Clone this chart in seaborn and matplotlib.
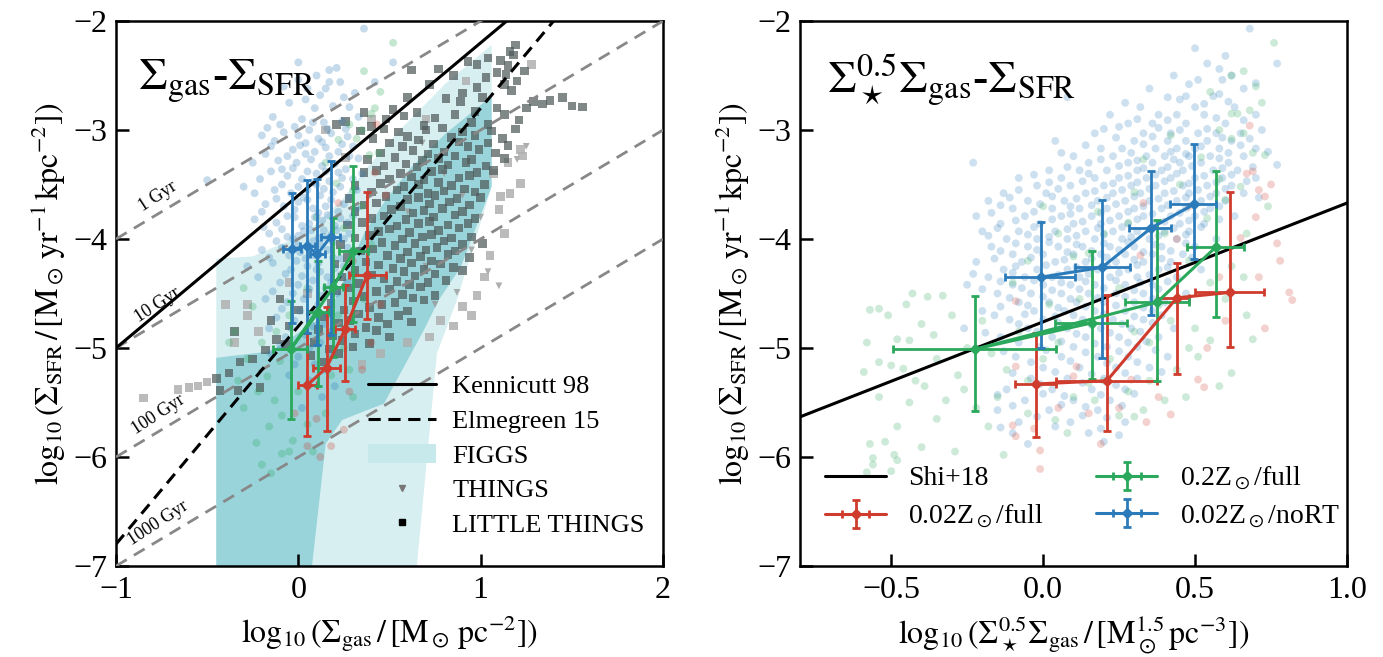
import numpy as np
import pandas as pd
import matplotlib
matplotlib.use('Agg')
import matplotlib.pyplot as plt
import seaborn as sns
from matplotlib.lines import Line2D
from matplotlib.patches import Patch

# ---------------- data: left panel ----------------
left_blue_pts = [
    (0.36,-2.07),(0.52,-2.38),(0.00,-2.38),(0.17,-2.45),(0.21,-2.43),(0.00,-2.54),(0.17,-2.56),(0.23,-2.56),
    (0.42,-2.56),(-0.14,-2.88),(0.28,-2.79),(0.05,-2.62),(0.12,-2.68),(0.31,-2.66),(-0.05,-2.75),(0.09,-2.80),
    (0.19,-2.78),(-0.10,-2.95),(0.02,-2.90),(0.14,-2.93),(0.24,-2.92),(0.33,-2.88),
    (-0.20,-3.05),(-0.08,-3.02),(0.00,-3.05),(0.06,-3.00),(0.11,-3.08),(0.18,-3.03),(0.27,-3.06),(-0.15,-3.15),
    (-0.03,-3.18),(0.04,-3.12),(0.09,-3.20),(0.15,-3.16),(0.22,-3.20),(0.30,-3.15),(-0.25,-3.30),(-0.11,-3.28),
    (-0.01,-3.30),(0.07,-3.27),(0.13,-3.33),(0.20,-3.31),(0.26,-3.36),(-0.21,-3.45),(-0.06,-3.42),(0.02,-3.45),
    (0.10,-3.40),(0.17,-3.47),(0.24,-3.44),(0.35,-3.40),(-0.50,-3.46),(-0.30,-3.52),(-0.13,-3.55),(-0.04,-3.58),
    (0.05,-3.55),(0.12,-3.60),(0.19,-3.57),(0.28,-3.62),(-0.18,-3.68),(-0.08,-3.70),(0.00,-3.66),(0.08,-3.72),
    (0.15,-3.70),(0.22,-3.75),(0.32,-3.72),(-0.24,-3.82),(-0.12,-3.85),(-0.02,-3.80),(0.06,-3.86),(0.13,-3.83),
    (0.20,-3.88),(0.27,-3.85),(-0.16,-3.95),(-0.06,-3.98),(0.03,-3.93),(0.11,-3.99),(0.18,-3.96),(0.25,-4.00),
    (-0.20,-4.10),(-0.09,-4.08),(0.01,-4.12),(0.09,-4.15),(0.16,-4.10),(0.23,-4.18),(-0.28,-4.25),(-0.14,-4.22),
    (-0.04,-4.28),(0.05,-4.25),(0.12,-4.30),(0.20,-4.27),(-0.10,-4.40),(0.00,-4.42),(0.08,-4.38),(0.15,-4.45),
    (0.27,-4.40),(-0.18,-4.55),(-0.06,-4.58),(0.03,-4.55),(0.11,-4.60),(0.18,-4.62),(-0.12,-4.72),(-0.02,-4.75),
    (0.07,-4.70),(0.14,-4.78),(-0.07,-4.90),(0.04,-4.88),(0.12,-4.95),(-0.15,-5.05),(0.00,-5.08),(0.09,-5.15),
    (0.17,-5.05),(-0.05,-5.25),(0.06,-5.30),(0.13,-5.45),(0.02,-5.55),(0.20,-5.35),
    (-0.09,-3.36),(0.03,-3.62),(0.10,-3.50),(-0.03,-4.00),(0.08,-4.02),(0.14,-3.92),(-0.01,-4.20),(0.16,-4.35),
    (-0.17,-2.98),(-0.02,-2.97),(0.08,-2.93),(0.16,-2.99),(0.26,-2.99),(0.04,-2.72),(0.15,-2.62),(-0.08,-2.60),
    (0.25,-2.70),(0.10,-2.50),(-0.13,-3.10),(0.01,-3.14),(0.13,-3.11),(0.24,-3.13),(0.33,-3.26),(-0.18,-3.22),
    (-0.06,-3.24),(0.04,-3.22),(0.17,-3.24),(0.28,-3.24),(-0.15,-3.38),(-0.03,-3.35),(0.05,-3.38),(0.15,-3.38),
    (0.22,-3.39),(0.30,-3.45),(-0.24,-3.58),(-0.09,-3.50),(0.00,-3.52),(0.08,-3.48),(0.14,-3.54),(0.23,-3.52),
    (0.32,-3.55),(-0.12,-3.63),(-0.02,-3.73),(0.05,-3.64),(0.11,-3.76),(0.18,-3.64),(0.25,-3.68),(-0.20,-3.75),
    (-0.06,-3.79),(0.02,-3.88),(0.09,-3.80),(0.16,-3.78),(0.23,-3.81),(0.30,-3.79),(-0.19,-3.89),(-0.09,-3.91),
    (0.00,-3.97),(0.07,-3.92),(0.14,-3.98),(0.21,-3.92),(0.28,-3.95),(-0.12,-4.02),(-0.01,-4.05),(0.06,-4.07),
    (0.12,-4.05),(0.19,-4.03),(0.27,-4.08),(-0.16,-4.17),(-0.05,-4.15),(0.04,-4.18),(0.11,-4.22),(0.19,-4.17),
    (0.25,-4.25),(-0.22,-4.35),(-0.07,-4.32),(0.02,-4.34),(0.10,-4.28),(0.18,-4.40),(0.23,-4.33),(-0.14,-4.48),
    (-0.03,-4.50),(0.06,-4.46),(0.13,-4.52),(0.21,-4.50),(-0.09,-4.64),(0.01,-4.66),(0.09,-4.65),(0.16,-4.70),
    (-0.16,-4.82),(-0.04,-4.82),(0.08,-4.80),(0.18,-4.85),(-0.10,-4.98),(0.06,-5.00),(0.14,-5.20),(-0.02,-5.15),
]
left_green_pts = [
    (0.52,-2.20),(0.36,-2.46),(0.45,-2.65),(0.42,-2.80),(0.40,-2.85),(0.35,-3.00),(0.32,-3.08),(0.22,-3.09),
    (0.44,-3.21),(0.39,-3.23),(0.21,-3.49),(0.30,-3.55),(0.35,-3.70),(0.10,-3.80),(0.25,-3.90),(0.40,-4.05),
    (-0.30,-4.45),(-0.25,-4.62),(0.30,-4.35),(0.36,-4.55),(-0.05,-4.70),(0.22,-4.70),(-0.35,-4.85),(-0.20,-4.95),
    (0.25,-5.00),(-0.28,-5.10),(-0.10,-5.12),(0.28,-5.20),(-0.17,-5.26),(-0.22,-5.40),(-0.13,-5.48),(0.00,-5.40),
    (0.30,-5.45),(-0.30,-5.55),(-0.09,-5.62),(-0.16,-5.72),(0.05,-5.70),(0.15,-5.60),(-0.23,-5.87),(-0.03,-5.85),
    (-0.09,-5.97),(-0.20,-6.07),(-0.15,-6.15),(0.08,-5.95),(-0.33,-5.30),(-0.38,-4.95),
    (0.28,-2.95),(0.15,-3.30),(0.05,-4.45),(-0.12,-4.85),(0.18,-5.25),(-0.05,-5.95),
]
left_red_pts = [
    (0.43,-2.95),(0.42,-3.39),(0.22,-3.67),(0.48,-3.60),(0.30,-4.20),(0.45,-4.60),(0.35,-5.20),(0.28,-5.40),
    (0.40,-4.95),(0.10,-5.65),(0.25,-5.75),(0.18,-5.90),(0.05,-5.90),(-0.02,-5.60),(0.12,-6.00),
]
lt_dark_pts = [
    (-0.45,-5.28),(-0.43,-5.39),(-0.38,-5.23),(-0.32,-5.13),(-0.33,-5.39),(-0.21,-5.36),(-0.12,-4.92),(-0.07,-4.97),
    (-0.25,-5.10),(-0.18,-5.02),(-0.35,-4.85),(-0.15,-4.75),(-0.05,-4.80),(0.00,-4.65),(-0.10,-4.55),
    (1.19,-2.22),(1.16,-2.28),(1.04,-2.34),(1.18,-2.31),(1.11,-2.36),(0.93,-2.37),(0.98,-2.40),(1.15,-2.41),
    (0.77,-2.44),(1.09,-2.47),(1.24,-2.46),(0.62,-2.45),(0.85,-2.50),(1.03,-2.52),(1.14,-2.49),
    (1.13,-2.58),(1.20,-2.55),(0.72,-2.58),(1.17,-2.64),(0.98,-2.61),(0.90,-2.66),
    (0.81,-2.71),(0.89,-2.74),(1.01,-2.70),(1.38,-2.73),(1.45,-2.70),(0.60,-2.70),
    (1.34,-2.76),(1.50,-2.78),(1.56,-2.79),(1.25,-2.80),(1.29,-2.74),
    (0.52,-2.81),(0.65,-2.84),(0.97,-2.83),(1.09,-2.80),(0.36,-2.84),
    (0.48,-2.90),(0.58,-2.87),(0.75,-2.89),(1.13,-2.86),(1.21,-2.91),(0.86,-2.86),
    (0.21,-2.95),(0.26,-2.92),(0.69,-2.96),(0.95,-2.93),(0.40,-2.97),(1.04,-2.95),
    (0.34,-3.01),(0.47,-2.99),(0.55,-3.02),(0.70,-3.00),(0.79,-2.98),(0.90,-3.02),(1.06,-3.01),(1.19,-2.99),
    (0.41,-3.08),(0.60,-3.06),(0.66,-3.09),(0.84,-3.07),(0.97,-3.05),(1.12,-3.08),
    (0.50,-3.12),(0.57,-3.15),(0.74,-3.13),(0.88,-3.11),(0.93,-3.15),(1.04,-3.12),(1.15,-3.14),
    (0.45,-3.21),(0.63,-3.19),(0.71,-3.22),(0.80,-3.20),(0.99,-3.18),(1.08,-3.21),
    (0.38,-3.27),(0.53,-3.25),(0.68,-3.28),(0.77,-3.26),(0.86,-3.24),(0.95,-3.27),(1.13,-3.26),
    (0.47,-3.33),(0.59,-3.31),(0.65,-3.34),(0.82,-3.32),(0.92,-3.30),(1.03,-3.33),
    (0.36,-3.39),(0.43,-3.37),(0.56,-3.40),(0.73,-3.38),(0.79,-3.36),(0.98,-3.39),(1.07,-3.37),
    (0.50,-3.45),(0.62,-3.43),(0.69,-3.46),(0.88,-3.44),(0.94,-3.42),
    (0.31,-3.51),(0.45,-3.49),(0.58,-3.52),(0.66,-3.50),(0.77,-3.48),(0.84,-3.51),(1.02,-3.50),
    (0.40,-3.57),(0.54,-3.55),(0.71,-3.58),(0.80,-3.56),(0.91,-3.54),(0.97,-3.57),
    (0.28,-3.63),(0.48,-3.61),(0.60,-3.64),(0.66,-3.62),(0.75,-3.60),(0.87,-3.63),(1.00,-3.62),
    (0.36,-3.69),(0.43,-3.67),(0.56,-3.70),(0.72,-3.68),(0.83,-3.66),(0.94,-3.69),
    (0.31,-3.75),(0.51,-3.73),(0.63,-3.76),(0.69,-3.74),(0.79,-3.72),(0.90,-3.75),
    (0.40,-3.81),(0.47,-3.79),(0.59,-3.82),(0.74,-3.80),(0.86,-3.78),(0.97,-3.81),
    (0.27,-3.87),(0.35,-3.85),(0.54,-3.88),(0.66,-3.86),(0.72,-3.84),(0.82,-3.87),(0.93,-3.86),
    (0.44,-3.93),(0.50,-3.91),(0.61,-3.94),(0.77,-3.92),(0.88,-3.90),
    (0.31,-3.99),(0.39,-3.97),(0.57,-4.00),(0.68,-3.98),(0.73,-3.96),(0.84,-3.99),(0.95,-3.98),
    (0.23,-4.05),(0.46,-4.03),(0.53,-4.06),(0.64,-4.04),(0.80,-4.02),(0.90,-4.05),(1.01,-4.04),
    (0.34,-4.11),(0.41,-4.09),(0.60,-4.12),(0.70,-4.10),(0.76,-4.08),(0.86,-4.11),
    (0.27,-4.17),(0.49,-4.15),(0.56,-4.18),(0.67,-4.16),(0.82,-4.14),(0.94,-4.17),
    (0.20,-4.23),(0.37,-4.21),(0.44,-4.24),(0.62,-4.22),(0.73,-4.20),(0.78,-4.23),
    (0.31,-4.29),(0.52,-4.27),(0.58,-4.30),(0.69,-4.28),(0.85,-4.26),(0.90,-4.29),
    (0.24,-4.35),(0.40,-4.33),(0.47,-4.36),(0.64,-4.34),(0.75,-4.32),
    (0.33,-4.41),(0.54,-4.39),(0.61,-4.42),(0.71,-4.40),(0.81,-4.38),
    (0.21,-4.47),(0.28,-4.45),(0.43,-4.48),(0.50,-4.46),(0.67,-4.44),
    (0.36,-4.53),(0.57,-4.51),(0.63,-4.54),(0.75,-4.52),
    (0.18,-4.59),(0.30,-4.57),(0.46,-4.60),(0.53,-4.58),(0.69,-4.56),
    (0.25,-4.65),(0.39,-4.63),(0.60,-4.66),
    (0.14,-4.71),(0.33,-4.69),(0.44,-4.72),(0.55,-4.70),
    (0.22,-4.77),(0.28,-4.75),(0.49,-4.78),(0.62,-4.76),
    (0.11,-4.83),(0.37,-4.81),(0.43,-4.84),(0.19,-4.89),(0.31,-4.87),(0.50,-4.90),
    (0.09,-4.95),(0.24,-4.93),(0.39,-4.96),(0.17,-5.01),(0.30,-4.99),(0.07,-5.07),(0.22,-5.05),(0.14,-5.13),
]
lt_light_pts = [
    (-0.85,-5.46),(-0.66,-5.38),(-0.60,-5.36),(-0.55,-5.35),(-0.50,-5.31),(1.22,-3.18),(1.23,-3.24),(1.22,-3.49),
    (1.11,-3.61),(1.10,-3.73),(1.13,-3.95),(1.05,-4.15),(1.02,-4.35),(0.98,-4.52),(0.95,-4.70),(0.60,-4.95),
    (0.72,-4.90),(0.85,-4.80),(0.45,-5.05),(0.35,-5.15),(-0.28,-4.60),(-0.22,-4.85),(-0.35,-4.95),(-0.05,-4.40),
    (0.05,-4.50),(0.70,-2.90),(0.40,-2.90),(0.15,-3.00),(0.92,-2.55),(1.28,-2.40),(1.07,-3.40),(1.15,-3.30),
    (-0.40,-4.60),(-0.28,-4.70),(1.16,-3.58),(0.90,-4.62),(0.78,-4.75),(0.26,-3.25),
]
things_pts = [
    (0.68,-3.12),(0.80,-3.40),(1.20,-3.27),(1.25,-3.15),(1.04,-4.30),(1.10,-4.43),(0.87,-4.49),(0.95,-4.10),
    (0.75,-4.60),(1.00,-3.80),(0.60,-3.75),(0.90,-3.60),(0.70,-4.25),
]
figgs_outer = [(-0.45,-7.0),(-0.45,-4.18),(-0.25,-4.16),(0.04,-3.95),(0.24,-3.64),(0.38,-3.34),(0.54,-3.03),
               (0.81,-2.57),(1.06,-2.22),(1.06,-3.52),(0.87,-4.56),(0.76,-5.05),(0.65,-7.0)]
figgs_inner = [(-0.45,-7.0),(-0.45,-5.09),(-0.15,-5.03),(0.10,-4.75),(0.20,-4.56),(0.28,-4.25),(0.36,-3.95),
               (0.48,-3.64),(0.62,-3.34),(0.81,-3.03),(1.06,-2.69),(1.06,-3.52),(0.89,-4.26),(0.77,-4.56),
               (0.69,-4.83),(0.47,-5.51),(0.24,-5.66),(0.15,-5.88),(0.075,-7.0)]
L_red_x = [0.049, 0.155, 0.256, 0.378]
L_red_y = [-5.34, -5.18, -4.83, -4.33]
L_red_xlo = [0.00, 0.08, 0.20, 0.28]; L_red_xhi = [0.10, 0.23, 0.31, 0.48]
L_red_ylo = [-5.81, -5.76, -5.30, -4.73]; L_red_yhi = [-4.86, -4.62, -4.42, -3.57]
L_green_x = [0.110, -0.042, 0.192, 0.302]
L_green_y = [-4.67, -5.01, -4.44, -4.11]
L_green_xlo = [0.05, -0.14, 0.14, 0.225]; L_green_xhi = [0.17, 0.05, 0.245, 0.38]
L_green_ylo = [-5.35, -5.65, -5.08, -4.76]; L_green_yhi = [-4.20, -4.57, -3.81, -3.33]
L_blue_x = [-0.033, 0.049, 0.104, 0.177]
L_blue_y = [-4.095, -4.064, -4.14, -3.98]
L_blue_xlo = [-0.083, 0.01, 0.065, 0.127]; L_blue_xhi = [0.017, 0.09, 0.145, 0.227]
L_blue_ylo = [-4.77, -4.86, -4.97, -4.88]; L_blue_yhi = [-3.575, -3.46, -3.45, -3.28]

# ---------------- data: right panel ----------------
right_blue_pts = [
    (0.68,-2.07),(0.50,-2.25),(0.54,-2.39),(0.77,-2.39),(0.58,-2.44),(0.43,-2.50),(0.62,-2.50),(0.51,-2.54),
    (0.59,-2.54),(0.35,-2.62),(0.66,-2.62),(0.08,-2.70),(0.41,-2.70),(0.45,-2.72),(0.47,-2.69),(0.56,-2.69),
    (0.58,-2.67),(0.32,-2.79),(0.50,-2.79),(0.63,-2.79),(0.22,-2.86),(0.38,-2.86),(0.44,-2.86),(0.53,-2.86),
    (0.70,-2.86),(0.28,-2.94),(0.25,-2.97),(0.36,-2.94),(0.47,-2.94),(0.60,-2.94),
    (0.17,-3.03),(0.33,-3.03),(0.42,-3.03),(0.51,-3.03),(0.57,-3.03),(0.65,-3.03),
    (0.04,-3.10),(0.30,-3.10),(0.41,-3.10),(0.47,-3.10),(0.54,-3.10),(0.62,-3.10),
    (0.19,-3.17),(0.26,-3.17),(0.37,-3.17),(0.44,-3.17),(0.50,-3.17),(0.58,-3.17),(0.70,-3.17),
    (0.10,-3.24),(0.23,-3.24),(0.34,-3.24),(0.40,-3.24),(0.48,-3.24),(0.55,-3.24),(0.66,-3.24),
    (-0.23,-3.30),(0.15,-3.30),(0.28,-3.30),(0.36,-3.30),(0.45,-3.30),(0.52,-3.30),(0.61,-3.30),(0.77,-3.32),
    (0.02,-3.37),(0.12,-3.37),(0.21,-3.37),(0.31,-3.37),(0.39,-3.37),(0.46,-3.37),(0.56,-3.37),(0.64,-3.37),
    (-0.08,-3.44),(0.06,-3.44),(0.17,-3.44),(0.25,-3.44),(0.34,-3.44),(0.42,-3.44),(0.50,-3.44),(0.59,-3.44),(0.70,-3.44),
    (-0.02,-3.51),(0.09,-3.51),(0.20,-3.51),(0.29,-3.51),(0.37,-3.51),(0.46,-3.51),(0.54,-3.51),(0.62,-3.51),
    (-0.13,-3.58),(0.01,-3.58),(0.14,-3.58),(0.23,-3.58),(0.32,-3.58),(0.40,-3.58),(0.48,-3.58),(0.57,-3.58),(0.66,-3.58),
    (-0.18,-3.65),(-0.05,-3.65),(0.07,-3.65),(0.18,-3.65),(0.27,-3.65),(0.35,-3.65),(0.44,-3.65),(0.52,-3.65),(0.60,-3.65),
    (-0.10,-3.72),(0.03,-3.72),(0.12,-3.72),(0.21,-3.72),(0.30,-3.72),(0.39,-3.72),(0.47,-3.72),(0.55,-3.72),
    (-0.22,-3.79),(-0.06,-3.79),(0.06,-3.79),(0.16,-3.79),(0.25,-3.79),(0.33,-3.79),(0.42,-3.79),(0.50,-3.79),(0.63,-3.79),
    (-0.14,-3.86),(-0.01,-3.86),(0.10,-3.86),(0.19,-3.86),(0.28,-3.86),(0.37,-3.86),(0.45,-3.86),(0.53,-3.86),
    (-0.20,-3.93),(-0.08,-3.93),(0.04,-3.93),(0.14,-3.93),(0.23,-3.93),(0.31,-3.93),(0.40,-3.93),(0.48,-3.93),
    (-0.12,-4.00),(-0.02,-4.00),(0.08,-4.00),(0.17,-4.00),(0.26,-4.00),(0.35,-4.00),(0.44,-4.00),(0.57,-4.00),
    (-0.17,-4.07),(-0.05,-4.07),(0.05,-4.07),(0.13,-4.07),(0.22,-4.07),(0.30,-4.07),(0.39,-4.07),(0.50,-4.07),
    (-0.10,-4.14),(0.00,-4.14),(0.10,-4.14),(0.19,-4.14),(0.27,-4.14),(0.36,-4.14),(0.46,-4.14),
    (-0.22,-4.21),(-0.07,-4.21),(0.04,-4.21),(0.14,-4.21),(0.24,-4.21),(0.33,-4.21),(0.42,-4.21),
    (-0.13,-4.28),(-0.02,-4.28),(0.08,-4.28),(0.18,-4.28),(0.28,-4.28),(0.38,-4.28),(0.52,-4.28),
    (-0.18,-4.35),(-0.06,-4.35),(0.03,-4.35),(0.12,-4.35),(0.22,-4.35),(0.31,-4.35),(0.44,-4.35),
    (-0.25,-4.42),(-0.10,-4.42),(0.00,-4.42),(0.09,-4.42),(0.17,-4.42),(0.27,-4.42),(0.36,-4.42),
    (-0.15,-4.50),(-0.04,-4.50),(0.06,-4.50),(0.15,-4.50),(0.24,-4.50),(0.33,-4.50),(0.47,-4.50),
    (-0.08,-4.58),(0.02,-4.58),(0.11,-4.58),(0.20,-4.58),(0.30,-4.58),(0.40,-4.58),
    (-0.20,-4.66),(-0.03,-4.66),(0.07,-4.66),(0.17,-4.66),(0.27,-4.66),(0.36,-4.66),
    (-0.11,-4.74),(0.00,-4.74),(0.13,-4.74),(0.23,-4.74),(0.33,-4.74),
    (-0.26,-4.82),(-0.05,-4.82),(0.08,-4.82),(0.19,-4.82),(0.29,-4.82),(0.43,-4.82),
    (-0.14,-4.90),(0.03,-4.90),(0.14,-4.90),(0.25,-4.90),(0.38,-4.90),
    (-0.01,-4.99),(0.10,-4.99),(0.21,-4.99),(0.31,-4.99),
    (-0.09,-5.08),(0.06,-5.08),(0.18,-5.08),(0.28,-5.08),(0.41,-5.08),
    (0.00,-5.18),(0.12,-5.18),(0.24,-5.18),(0.35,-5.18),
    (-0.04,-5.28),(0.08,-5.28),(0.20,-5.28),(0.31,-5.28),
    (-0.12,-5.38),(0.03,-5.38),(0.16,-5.38),(0.27,-5.38),
    (-0.06,-5.48),(0.10,-5.48),(0.22,-5.48),(-0.15,-5.57),(0.02,-5.57),(0.18,-5.57),
    (-0.08,-5.68),(0.09,-5.68),(0.27,-5.68),(-0.10,-5.78),(0.15,-5.78),(0.25,-5.80),(-0.05,-5.88),(0.20,-5.86),
    (0.60,-2.32),(0.48,-2.58),(0.70,-2.57),(0.27,-2.75),(0.53,-2.76),(0.61,-2.74),(0.31,-2.90),(0.41,-2.91),
    (0.57,-2.89),(0.66,-2.91),(0.20,-2.99),(0.38,-2.98),(0.45,-3.00),(0.54,-2.99),(0.72,-3.00),(0.24,-3.07),
    (0.36,-3.06),(0.59,-3.07),(0.68,-3.08),(0.14,-3.14),(0.33,-3.13),(0.52,-3.15),(0.65,-3.14),(0.06,-3.21),
    (0.29,-3.21),(0.42,-3.20),(0.47,-3.22),(0.61,-3.21),(0.74,-3.20),(0.19,-3.27),(0.31,-3.28),(0.43,-3.27),
    (0.58,-3.26),(0.08,-3.34),(0.25,-3.33),(0.33,-3.35),(0.41,-3.34),(0.49,-3.33),(0.59,-3.35),(0.69,-3.34),
    (-0.03,-3.41),(0.15,-3.40),(0.28,-3.42),(0.37,-3.41),(0.44,-3.40),(0.53,-3.42),(0.62,-3.41),(0.02,-3.48),
    (0.13,-3.47),(0.23,-3.49),(0.31,-3.48),(0.40,-3.47),(0.48,-3.49),(0.57,-3.48),(0.67,-3.47),(-0.08,-3.55),
    (0.05,-3.54),(0.17,-3.56),(0.26,-3.55),(0.35,-3.54),(0.43,-3.56),(0.51,-3.55),(0.60,-3.54),(-0.11,-3.62),
    (0.03,-3.61),(0.11,-3.63),(0.21,-3.62),(0.30,-3.61),(0.38,-3.63),(0.47,-3.62),(0.55,-3.61),(0.71,-3.62),
    (-0.14,-3.69),(-0.01,-3.68),(0.09,-3.70),(0.16,-3.69),(0.24,-3.68),(0.33,-3.70),(0.41,-3.69),(0.50,-3.68),
    (0.58,-3.70),(-0.17,-3.76),(-0.03,-3.75),(0.09,-3.77),(0.19,-3.76),(0.28,-3.75),(0.36,-3.77),(0.45,-3.76),
    (0.53,-3.75),(-0.09,-3.83),(0.03,-3.82),(0.13,-3.84),(0.22,-3.83),(0.31,-3.82),(0.40,-3.84),(0.48,-3.83),
    (0.58,-3.82),(-0.15,-3.90),(-0.03,-3.89),(0.08,-3.91),(0.18,-3.90),(0.26,-3.89),(0.35,-3.91),(0.43,-3.90),
    (0.52,-3.89),(-0.18,-3.97),(-0.05,-3.96),(0.02,-3.98),(0.11,-3.97),(0.20,-3.96),(0.29,-3.98),(0.38,-3.97),
    (0.47,-3.96),(-0.09,-4.04),(0.02,-4.03),(0.11,-4.05),(0.20,-4.04),(0.28,-4.03),(0.37,-4.05),(0.47,-4.04),
    (-0.14,-4.11),(-0.02,-4.10),(0.08,-4.12),(0.16,-4.11),(0.25,-4.10),(0.33,-4.12),(0.42,-4.11),(-0.16,-4.18),
    (-0.04,-4.17),(0.07,-4.19),(0.16,-4.18),(0.21,-4.17),(0.30,-4.19),(0.39,-4.18),(0.49,-4.17),(-0.09,-4.25),
    (0.01,-4.24),(0.11,-4.26),(0.21,-4.25),(0.31,-4.24),(0.41,-4.26),(-0.23,-4.32),(-0.10,-4.31),(0.05,-4.33),
    (0.15,-4.32),(0.25,-4.31),(0.35,-4.33),(-0.14,-4.39),(-0.03,-4.38),(0.06,-4.40),(0.14,-4.39),(0.24,-4.38),
    (0.32,-4.40),(0.41,-4.39),(-0.20,-4.46),(-0.07,-4.45),(0.03,-4.47),(0.12,-4.46),(0.20,-4.45),(0.30,-4.47),
    (0.38,-4.46),(-0.11,-4.54),(0.00,-4.53),(0.09,-4.55),(0.18,-4.54),(0.27,-4.53),(0.36,-4.55),(-0.14,-4.62),
    (-0.05,-4.61),(0.05,-4.63),(0.14,-4.62),(0.24,-4.61),(0.33,-4.63),(-0.16,-4.70),(-0.06,-4.69),(0.04,-4.71),
    (0.10,-4.70),(0.20,-4.69),(0.30,-4.71),(0.39,-4.70),(-0.08,-4.78),(0.05,-4.77),(0.16,-4.79),(0.26,-4.78),
    (0.36,-4.77),(-0.19,-4.86),(-0.02,-4.85),(0.11,-4.87),(0.22,-4.86),(0.32,-4.85),(-0.08,-4.95),(0.06,-4.94),
    (0.17,-4.96),(0.28,-4.95),(0.34,-4.94),(-0.13,-5.03),(0.01,-5.02),(0.14,-5.04),(0.25,-5.03),(0.37,-5.02),
    (-0.04,-5.13),(0.09,-5.12),(0.21,-5.14),(0.31,-5.13),(-0.10,-5.23),(0.04,-5.22),(0.16,-5.24),(0.27,-5.23),
    (0.39,-5.22),(-0.01,-5.33),(0.13,-5.32),(0.24,-5.34),(-0.15,-5.43),(0.00,-5.42),(0.07,-5.44),(0.19,-5.43),
    (0.30,-5.42),(-0.10,-5.53),(0.06,-5.52),(0.14,-5.54),(0.26,-5.53),(-0.02,-5.63),(0.13,-5.62),(0.21,-5.64),
    (-0.14,-5.73),(0.04,-5.72),(0.19,-5.74),
]
right_green_pts = [
    (-0.57,-4.65),(-0.54,-4.64),(-0.51,-4.70),(-0.58,-4.95),(-0.48,-4.92),(-0.44,-4.93),(-0.36,-4.88),(-0.54,-5.13),
    (-0.59,-5.22),(-0.50,-5.16),(-0.46,-5.19),(-0.39,-5.35),(-0.54,-5.45),(-0.32,-5.48),(-0.48,-5.72),(-0.52,-5.86),
    (-0.57,-5.88),(-0.40,-5.91),(-0.49,-5.98),(-0.48,-6.03),(-0.56,-6.01),(-0.56,-6.07),(-0.58,-6.14),(-0.50,-6.13),
    (-0.29,-5.95),(-0.26,-5.38),(-0.18,-5.72),(-0.13,-5.98),(-0.17,-5.05),(-0.43,-4.50),(-0.38,-4.53),(-0.33,-4.52),
    (0.76,-2.20),(0.66,-2.46),(0.62,-2.50),(0.68,-2.82),(0.64,-2.85),(0.72,-2.75),(0.58,-3.00),(0.62,-3.08),
    (0.66,-3.03),(0.69,-3.21),(0.73,-3.23),(0.65,-3.52),(0.60,-3.64),(0.33,-3.27),(0.30,-3.57),(0.00,-3.70),
    (0.10,-4.16),(0.15,-4.13),(0.54,-3.81),(0.67,-3.95),(0.38,-4.61),(0.50,-4.82),(0.55,-4.93),(0.58,-5.35),
    (0.62,-5.23),(0.47,-5.45),(0.40,-5.48),(0.33,-5.57),(0.25,-5.62),(0.08,-5.78),(0.04,-5.66),(0.17,-5.48),
    (0.30,-5.63),(0.15,-5.32),(0.51,-5.08),(0.69,-4.92),(0.67,-4.70),(-0.10,-4.40),(-0.05,-5.30),(0.22,-5.10),
    (0.45,-3.50),(0.20,-3.95),(-0.20,-4.75),(0.35,-4.95),(0.05,-4.95),(-0.08,-4.85),(0.55,-4.40),(0.62,-4.25),
    (-0.45,-4.60),(-0.40,-4.78),(-0.30,-4.70),(-0.25,-5.00),(-0.35,-5.10),(-0.42,-5.30),(-0.28,-5.25),(-0.22,-5.55),
    (-0.35,-5.65),(-0.44,-5.50),(-0.12,-5.20),(-0.15,-5.45),(-0.05,-5.60),(0.00,-5.10),(0.10,-5.45),(0.20,-5.30),
    (0.28,-5.40),(0.35,-5.30),(0.44,-5.20),(0.48,-5.00),(0.42,-4.75),(0.30,-4.85),(0.25,-4.45),(0.12,-4.55),
    (0.02,-4.60),(-0.05,-4.20),(0.05,-3.95),(0.18,-3.75),(0.28,-3.85),(0.40,-3.95),(0.48,-4.20),(0.60,-4.55),
    (0.66,-4.35),(0.58,-3.45),(0.52,-3.25),(0.42,-3.05),(0.70,-2.60),(0.62,-2.85),(0.55,-2.65),(0.74,-3.70),
]
right_red_pts = [
    (0.68,-2.96),(0.67,-3.40),(0.69,-3.38),(0.71,-3.55),(0.73,-3.61),(0.75,-3.50),(0.65,-3.99),(0.77,-4.04),
    (0.71,-4.35),(0.81,-4.49),(0.82,-4.56),(0.58,-4.35),(0.33,-3.67),(0.44,-4.00),(0.32,-4.15),(-0.09,-4.57),
    (0.73,-4.82),(0.54,-5.00),(0.51,-5.29),(0.53,-5.36),(0.42,-5.61),(0.34,-5.68),(0.19,-5.88),(-0.01,-5.94),
    (-0.01,-6.11),(-0.10,-5.71),(-0.09,-5.81),(-0.03,-5.74),(0.10,-5.26),(0.11,-5.17),(-0.09,-5.17),(0.29,-5.29),
    (0.60,-4.75),(0.78,-4.20),(0.70,-3.80),(0.48,-3.70),(0.25,-5.55),(0.05,-5.55),(0.38,-5.45),(0.15,-5.60),
]
R_red_x = [-0.023, 0.21, 0.44, 0.615]
R_red_y = [-5.33, -5.30, -4.54, -4.49]
R_red_xlo = [-0.093, 0.043, 0.375, 0.50]; R_red_xhi = [0.043, 0.375, 0.48, 0.727]
R_red_ylo = [-5.82, -5.76, -5.24, -4.99]; R_red_yhi = [-4.86, -4.51, -4.22, -3.57]
R_green_x = [0.16, -0.224, 0.375, 0.57]
R_green_y = [-4.77, -5.01, -4.58, -4.07]
R_green_xlo = [0.04, -0.494, 0.27, 0.474]; R_green_xhi = [0.276, 0.043, 0.48, 0.66]
R_green_ylo = [-5.28, -5.58, -5.30, -4.72]; R_green_yhi = [-4.11, -4.52, -3.83, -3.38]
R_blue_x = [-0.007, 0.194, 0.355, 0.497]
R_blue_y = [-4.35, -4.26, -3.90, -3.68]
R_blue_xlo = [-0.125, 0.105, 0.283, 0.418]; R_blue_xhi = [0.105, 0.286, 0.42, 0.57]
R_blue_ylo = [-5.00, -5.09, -4.70, -4.18]; R_blue_yhi = [-3.84, -3.64, -3.38, -3.13]

kennicutt = dict(slope=1.4, norm=-3.6)
elmegreen = dict(slope=2.0, norm=-4.8)
shi18 = dict(slope=1.09, norm=-4.76)
tdep_gyr = [1, 10, 100, 1000]
tdep_labels = ['1 Gyr', '10 Gyr', '100 Gyr', '1000 Gyr']

RED, GREEN, BLUE = '#cf3b2c', '#2aa85b', '#2b7bba'

# ---------------- style ----------------
sns.set_theme(style='white')
plt.rcParams.update({
    'font.family': ['Liberation Serif', 'DejaVu Serif'],
    'mathtext.fontset': 'stix',
    'axes.linewidth': 1.8,
    'axes.edgecolor': 'black',
    'xtick.direction': 'in', 'ytick.direction': 'in',
    'xtick.bottom': True, 'ytick.left': True,
    'xtick.top': False, 'ytick.right': False,
    'xtick.major.size': 9, 'ytick.major.size': 9,
    'xtick.major.width': 1.8, 'ytick.major.width': 1.8,
    'xtick.major.pad': 7, 'ytick.major.pad': 6,
    'xtick.labelsize': 23, 'ytick.labelsize': 23,
    'xtick.color': 'black', 'ytick.color': 'black',
    'axes.labelsize': 23, 'axes.labelcolor': 'black',
    'text.color': 'black',
})

fig = plt.figure(figsize=(13.83, 6.57), dpi=100)
W, H = 1383, 657
ax1 = fig.add_axes([116 / W, 91 / H, 547 / W, 545 / H])
ax2 = fig.add_axes([800 / W, 91 / H, 547 / W, 545 / H])


def to_df(pts):
    return pd.DataFrame(pts, columns=['x', 'y'])


def binned(ax, xs, ys, xlo, xhi, ylo, yhi, color):
    xs, ys = np.array(xs), np.array(ys)
    xerr = [xs - np.array(xlo), np.array(xhi) - xs]
    yerr = [ys - np.array(ylo), np.array(yhi) - ys]
    return ax.errorbar(xs, ys, xerr=xerr, yerr=yerr, color=color, marker='D', ms=5.5,
                       lw=2.2, elinewidth=2.0, capsize=3, capthick=2.0, zorder=10)

# ---------------- left panel ----------------
ax = ax1
ax.set_xlim(-1, 2)
ax.set_ylim(-7, -2)
ax.fill(*zip(*figgs_outer), color='#d7eff1', lw=0, zorder=0)
ax.fill(*zip(*figgs_inner), color='#98d4da', lw=0, zorder=0.5)

sns.scatterplot(data=to_df(things_pts), x='x', y='y', ax=ax, marker='v', s=24, color='#9a9a9a',
                edgecolor='none', linewidth=0, alpha=0.8, zorder=2, legend=False)
sns.scatterplot(data=to_df(lt_light_pts), x='x', y='y', ax=ax, marker='s', s=38, color='#b0b0b0',
                edgecolor='none', linewidth=0, alpha=0.85, zorder=2, legend=False)
sns.scatterplot(data=to_df(lt_dark_pts), x='x', y='y', ax=ax, marker='s', s=38, color='#4f5a5a',
                edgecolor='none', linewidth=0, alpha=0.72, zorder=2, legend=False)
for pts, c in [(left_green_pts, GREEN), (left_red_pts, RED), (left_blue_pts, BLUE)]:
    sns.scatterplot(data=to_df(pts), x='x', y='y', ax=ax, marker='o', s=32, color=c,
                    edgecolor='none', linewidth=0, alpha=0.27, zorder=3, legend=False)

xl = np.array([-1.0, 2.0])
for t, lab in zip(tdep_gyr, tdep_labels):
    ax.plot(xl, xl - 3 - np.log10(t), ls=(0, (4.5, 3)), color='#888888', lw=2.0, zorder=4)
    x0 = -0.77
    ax.text(x0, x0 - 3 - np.log10(t) + 0.16, lab, fontsize=13, rotation=33, rotation_mode='anchor',
            ha='center', va='center', zorder=5)
ax.plot(xl, kennicutt['slope'] * xl + kennicutt['norm'], color='black', lw=2.2, zorder=6)
ax.plot(xl, elmegreen['slope'] * xl + elmegreen['norm'], color='black', lw=2.2, ls=(0, (4, 2.5)), zorder=6)

binned(ax, L_red_x, L_red_y, L_red_xlo, L_red_xhi, L_red_ylo, L_red_yhi, RED)
binned(ax, L_green_x, L_green_y, L_green_xlo, L_green_xhi, L_green_ylo, L_green_yhi, GREEN)
binned(ax, L_blue_x, L_blue_y, L_blue_xlo, L_blue_xhi, L_blue_ylo, L_blue_yhi, BLUE)

ax.text(0.04, 0.89, r'$\Sigma_{\rm gas}$-$\Sigma_{\rm SFR}$', transform=ax.transAxes, fontsize=33,
        ha='left', va='center')
ax.set_xticks([-1, 0, 1, 2])
ax.set_yticks([-7, -6, -5, -4, -3, -2])
ax.set_xlabel(r'$\log_{10}(\Sigma_{\rm gas}\,/\,[{\rm M_\odot\,pc^{-2}}])$', labelpad=6)
ax.set_ylabel(r'$\log_{10}(\Sigma_{\rm SFR}\,/\,[{\rm M_\odot\,yr^{-1}\,kpc^{-2}}])$', labelpad=4)

h1 = [Line2D([], [], color='black', lw=2.2),
      Line2D([], [], color='black', lw=2.2, ls=(0, (4, 2.5))),
      Patch(facecolor='#c8e9ec', edgecolor='none'),
      Line2D([], [], marker='v', color='#777777', ls='none', ms=4),
      Line2D([], [], marker='s', color='black', ls='none', ms=4)]
l1 = ['Kennicutt 98', 'Elmegreen 15', 'FIGGS', 'THINGS', 'LITTLE THINGS']
ax.legend(h1, l1, loc='lower right', bbox_to_anchor=(1.0, 0.02), frameon=False, fontsize=19,
          handlelength=2.6, handletextpad=0.6, labelspacing=0.42, borderaxespad=0.3)

# ---------------- right panel ----------------
ax = ax2
ax.set_xlim(-0.8, 1.0)
ax.set_ylim(-7, -2)
for pts, c in [(right_blue_pts, BLUE), (right_green_pts, GREEN), (right_red_pts, RED)]:
    sns.scatterplot(data=to_df(pts), x='x', y='y', ax=ax, marker='o', s=32, color=c,
                    edgecolor='none', linewidth=0, alpha=0.23, zorder=3, legend=False)
xr = np.array([-0.8, 1.0])
shi_line, = ax.plot(xr, shi18['slope'] * xr + shi18['norm'], color='black', lw=2.2, zorder=6)
e_red = binned(ax, R_red_x, R_red_y, R_red_xlo, R_red_xhi, R_red_ylo, R_red_yhi, RED)
e_green = binned(ax, R_green_x, R_green_y, R_green_xlo, R_green_xhi, R_green_ylo, R_green_yhi, GREEN)
e_blue = binned(ax, R_blue_x, R_blue_y, R_blue_xlo, R_blue_xhi, R_blue_ylo, R_blue_yhi, BLUE)

ax.text(0.05, 0.89, r'$\Sigma_\star^{0.5}\Sigma_{\rm gas}$-$\Sigma_{\rm SFR}$', transform=ax.transAxes,
        fontsize=33, ha='left', va='center')
ax.set_xticks([-0.5, 0.0, 0.5, 1.0])
ax.set_xticklabels(['\u22120.5', '0.0', '0.5', '1.0'])
ax.set_yticks([-7, -6, -5, -4, -3, -2])
ax.set_xlabel(r'$\log_{10}(\Sigma_\star^{0.5}\Sigma_{\rm gas}\,/\,[{\rm M_\odot^{1.5}\,pc^{-3}}])$', labelpad=6)
ax.set_ylabel(r'$\log_{10}(\Sigma_{\rm SFR}\,/\,[{\rm M_\odot\,yr^{-1}\,kpc^{-2}}])$', labelpad=4)

ax.legend([shi_line, e_red, e_green, e_blue],
          ['Shi+18', r'0.02Z$_\odot$/full', r'0.2Z$_\odot$/full', r'0.02Z$_\odot$/noRT'],
          loc='lower left', bbox_to_anchor=(0.0, 0.02), ncol=2, frameon=False, fontsize=20,
          handlelength=2.2, handletextpad=0.8, columnspacing=1.9, labelspacing=0.4)

for a in (ax1, ax2):
    for s in a.spines.values():
        s.set_visible(True)
        s.set_color('black')
        s.set_linewidth(1.8)
    a.grid(False)

fig.savefig('out.png', dpi=100)
